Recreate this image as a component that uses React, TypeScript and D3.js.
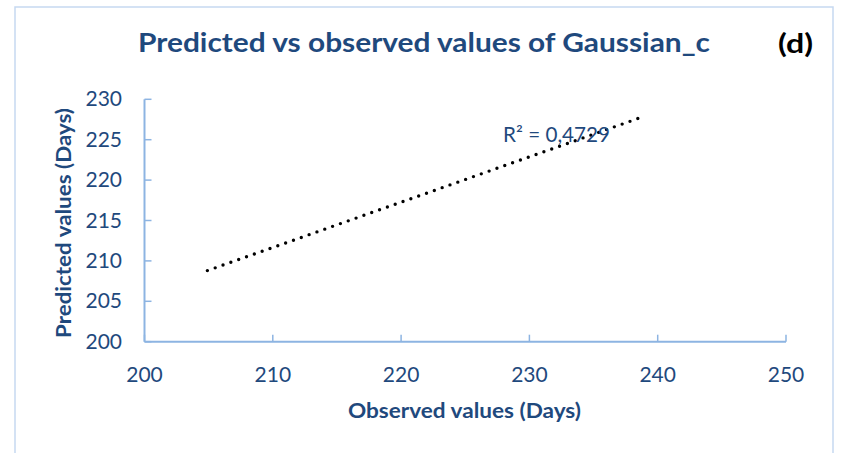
import React from "react";
import * as d3 from "d3";

const xTicks = [200, 210, 220, 230, 240, 250];
const yTicks = [200, 205, 210, 215, 220, 225, 230];
const trendX = [204.9, 238.6];
const trendY = [208.8, 227.7];
const titleText = "Predicted vs observed values of Gaussian_c";
const panelLabel = "(d)";
const xTitle = "Observed values (Days)";
const yTitle = "Predicted values (Days)";
const r2Label = "R² = 0,4729";

const W = 841;
const H = 453;
const blue = "#1F497D";
const axisColor = "#8DB4E2";
const font = "Lato, 'Open Sans', sans-serif";

export default function App() {
  const x = d3.scaleLinear().domain([200, 250]).range([144.5, 786]);
  const y = d3.scaleLinear().domain([200, 230]).range([341.7, 99.3]);
  const line = d3
    .line<number>()
    .x((_, i) => x(trendX[i]))
    .y((d) => y(d));
  const x0 = x(200);
  const y0 = y(200);
  return (
    <svg
      width={W}
      height={H}
      style={{ position: "absolute", left: 0, top: 0, background: "#fff" }}
      fontFamily={font}
    >
      <rect x={15} y={7} width={818} height={460} fill="#fff" stroke="#C6D9F1" strokeWidth={1.5} />
      <text x={138} y={52} fill={blue} fontSize={26} fontWeight={700} textLength={572} lengthAdjust="spacingAndGlyphs">
        {titleText}
      </text>
      <text x={778} y={53} fill="#000" fontSize={27} fontWeight={700} textLength={35} lengthAdjust="spacingAndGlyphs">
        {panelLabel}
      </text>
      {/* axes */}
      <line x1={x0} x2={x(250)} y1={y0} y2={y0} stroke={axisColor} strokeWidth={2} />
      <line x1={x0} x2={x0} y1={y0} y2={y(230)} stroke={axisColor} strokeWidth={2} />
      {xTicks.map((t) => (
        <g key={"x" + t}>
          <line x1={x(t)} x2={x(t)} y1={y0} y2={y0 - 7} stroke={axisColor} strokeWidth={1.5} />
          <text x={x(t)} y={381.5} textAnchor="middle" fill={blue} fontSize={21}>
            {t}
          </text>
        </g>
      ))}
      {yTicks.map((t) => (
        <g key={"y" + t}>
          <line x1={x0} x2={x0 + 7} y1={y(t)} y2={y(t)} stroke={axisColor} strokeWidth={1.5} />
          <text x={122} y={y(t) + 7} textAnchor="end" fill={blue} fontSize={21}>
            {t}
          </text>
        </g>
      ))}
      <text x={348} y={418} fill={blue} fontSize={20} fontWeight={700} textLength={233} lengthAdjust="spacingAndGlyphs">
        {xTitle}
      </text>
      <text
        transform={`translate(71,338) rotate(-90)`}
        fill={blue}
        fontSize={20}
        fontWeight={700}
        textLength={230}
        lengthAdjust="spacingAndGlyphs"
      >
        {yTitle}
      </text>
      <path
        d={line(trendY) || ""}
        fill="none"
        stroke="#000"
        strokeWidth={3.4}
        strokeLinecap="round"
        strokeDasharray="0 8.3"
      />
      <text x={503} y={142} fill={blue} fontSize={21} textLength={107} lengthAdjust="spacingAndGlyphs">
        {r2Label}
      </text>
    </svg>
  );
}
